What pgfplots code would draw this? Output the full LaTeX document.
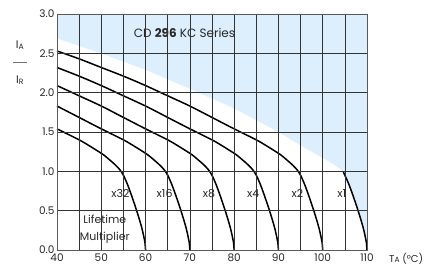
\documentclass[border=0pt]{standalone}
\usepackage{fontspec}
\setmainfont{Poppins}
\usepackage{pgfplots}
\pgfplotsset{compat=1.18}
\definecolor{bgblue}{RGB}{221,238,252}
\definecolor{txt}{RGB}{40,40,40}
\begin{document}
\begin{tikzpicture}
\begin{axis}[
  at={(0,0)}, anchor=south west,
  scale only axis, width=310pt, height=236pt,
  xmin=40, xmax=110, ymin=0, ymax=3,
  xtick={40,50,...,110}, minor xtick={45,55,...,105},
  ytick={0,0.5,1,1.5,2,2.5,3},
  grid=both,
  major grid style={black!80, line width=0.5pt},
  minor grid style={black!80, line width=0.5pt},
  axis line style={black!65, line width=0.6pt},
  tick style={draw=none},
  ticklabel style={font=\fontsize{10.5}{11}\selectfont, text=txt},
  /pgf/number format/assume math mode=true,
  yticklabel style={/pgf/number format/fixed, /pgf/number format/fixed zerofill, /pgf/number format/precision=1, xshift=1pt},
  axis on top,
  clip=false,
]
\addplot[fill=bgblue, draw=none] coordinates {(40,3) (40,2.69) (50,2.50) (60,2.29) (70,2.05) (80,1.80) (90,1.50) (95,1.33) (100,1.17) (103,1.07) (104.6,1.0) (105,0.95) (105.8,0.85) (106.6,0.73) (107.4,0.60) (108.1,0.48) (108.7,0.37) (109.2,0.27) (109.6,0.17) (109.85,0.10) (110,0) (110,3)} --cycle;

\pgfplotsset{cur/.style={black, line width=1.5pt, smooth}}
\addplot[cur] coordinates {(40,1.54) (45,1.40) (47,1.335) (49,1.265) (50.5,1.21) (52,1.14) (53.2,1.08) (54.2,1.02) (55,0.95) (55.8,0.85) (56.6,0.73) (57.4,0.60) (58.1,0.48) (58.7,0.37) (59.2,0.27) (59.6,0.17) (59.85,0.10) (60,0)};
\addplot[cur] coordinates {(40,1.83) (45,1.685) (50,1.54) (55,1.40) (57,1.335) (59,1.265) (60.5,1.21) (62,1.14) (63.2,1.08) (64.2,1.02) (65,0.95) (65.8,0.85) (66.6,0.73) (67.4,0.60) (68.1,0.48) (68.7,0.37) (69.2,0.27) (69.6,0.17) (69.85,0.10) (70,0)};
\addplot[cur] coordinates {(40,2.09) (45,1.96) (50,1.83) (55,1.685) (60,1.54) (65,1.40) (67,1.335) (69,1.265) (70.5,1.21) (72,1.14) (73.2,1.08) (74.2,1.02) (75,0.95) (75.8,0.85) (76.6,0.73) (77.4,0.60) (78.1,0.48) (78.7,0.37) (79.2,0.27) (79.6,0.17) (79.85,0.10) (80,0)};
\addplot[cur] coordinates {(40,2.32) (45,2.21) (50,2.09) (55,1.96) (60,1.83) (65,1.685) (70,1.54) (75,1.40) (77,1.335) (79,1.265) (80.5,1.21) (82,1.14) (83.2,1.08) (84.2,1.02) (85,0.95) (85.8,0.85) (86.6,0.73) (87.4,0.60) (88.1,0.48) (88.7,0.37) (89.2,0.27) (89.6,0.17) (89.85,0.10) (90,0)};
\addplot[cur] coordinates {(40,2.53) (45,2.43) (50,2.32) (55,2.21) (60,2.09) (65,1.96) (70,1.83) (75,1.685) (80,1.54) (85,1.40) (87,1.335) (89,1.265) (90.5,1.21) (92,1.14) (93.2,1.08) (94.2,1.02) (95,0.95) (95.8,0.85) (96.6,0.73) (97.4,0.60) (98.1,0.48) (98.7,0.37) (99.2,0.27) (99.6,0.17) (99.85,0.10) (100,0)};
\addplot[cur] coordinates {(104.6,1.0) (105,0.95) (105.8,0.85) (106.6,0.73) (107.4,0.60) (108.1,0.48) (108.7,0.37) (109.2,0.27) (109.6,0.17) (109.85,0.10) (110,0)};

\begin{scope}[every node/.style={font=\fontsize{11}{12}\selectfont, text=txt}]
\node at (axis cs:68.8,2.76) {\fontsize{12}{13}\selectfont CD \textbf{296} KC Series};
\node at (axis cs:54.3,0.72) {x32};
\node at (axis cs:64.3,0.72) {x16};
\node at (axis cs:74.3,0.72) {x8};
\node at (axis cs:84.3,0.72) {x4};
\node at (axis cs:94.3,0.72) {x2};
\node at (axis cs:104.3,0.72) {x1};
\node[align=center, font=\fontsize{11}{17}\selectfont] at (axis cs:50.8,0.27) {Lifetime\\Multiplier};
\end{scope}
\end{axis}
\node[text=txt, font=\fontsize{11}{12}\selectfont] at (-37pt,205pt) {I\textsubscript{A}};
\draw[black!55, line width=0.8pt] (-44pt,188pt) -- (-30pt,188pt);
\node[text=txt, font=\fontsize{11}{12}\selectfont] at (-37pt,170pt) {I\textsubscript{R}};
\node[text=txt, font=\fontsize{10}{11}\selectfont, anchor=west, inner sep=0pt] at (332pt,-9pt) {T{\fontsize{7.5}{9}\selectfont A} (°C)};
\pgfresetboundingbox
\path (-57pt,-17pt) rectangle (371pt,250pt);
\end{tikzpicture}
\end{document}
